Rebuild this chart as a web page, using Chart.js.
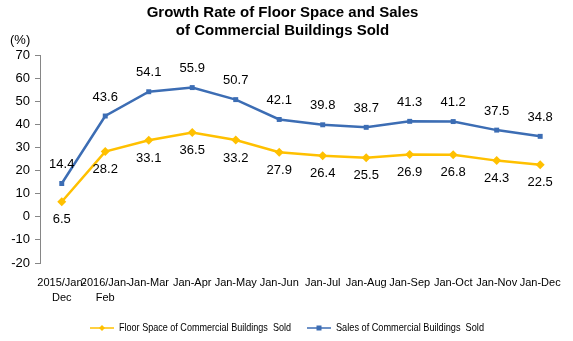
<!DOCTYPE html>
<html>
<head>
<meta charset="utf-8">
<script src="https://cdn.jsdelivr.net/npm/chart.js@4/dist/chart.umd.min.js"></script>
<style>
  html, body { margin: 0; padding: 0; background: #fff; }
  #wrap { width: 573px; height: 341px; position: relative; }
</style>
</head>
<body>
<div id="wrap"><canvas id="chart"></canvas></div>
<script>
// data
const categories = [['2015/Jan-', 'Dec'], ['2016/Jan-', 'Feb'], 'Jan-Mar', 'Jan-Apr', 'Jan-May', 'Jan-Jun',
  'Jan-Jul', 'Jan-Aug', 'Jan-Sep', 'Jan-Oct', 'Jan-Nov', 'Jan-Dec'];
const floorSpace = [6.5, 28.2, 33.1, 36.5, 33.2, 27.9, 26.4, 25.5, 26.9, 26.8, 24.3, 22.5];
const sales = [14.4, 43.6, 54.1, 55.9, 50.7, 42.1, 39.8, 38.7, 41.3, 41.2, 37.5, 34.8];
const yTicks = { min: -20, max: 70, step: 10 };

const YELLOW = '#FFC000';
const BLUE = '#3C6DB4';
const FONT = 'Arial, "Liberation Sans", sans-serif';

// value labels: blue above, yellow below
const labelPlugin = {
  id: 'valueLabels',
  afterDatasetsDraw(chart) {
    const c = chart.ctx;
    c.save();
    c.font = '13px ' + FONT;
    c.fillStyle = '#000';
    c.textAlign = 'center';
    c.textBaseline = 'middle';
    chart.data.datasets.forEach((ds, i) => {
      const meta = chart.getDatasetMeta(i);
      meta.data.forEach((pt, j) => {
        const dy = i === 1 ? -19 : 18;
        c.fillText(ds.data[j].toFixed(1), pt.x, pt.y + dy);
      });
    });
    // unit label
    c.textAlign = 'left';
    c.fillText('(%)', 10, 40);
    c.restore();
  }
};

// legend with line + marker
const legendPlugin = {
  id: 'lineLegend',
  afterDraw(chart) {
    const c = chart.ctx;
    const y = 328;
    const items = [
      { text: 'Floor Space of Commercial Buildings  Sold', color: YELLOW, shape: 'diamond', x: 90, w: 172 },
      { text: 'Sales of Commercial Buildings  Sold', color: BLUE, shape: 'rect', x: 307, w: 148 }
    ];
    c.save();
    c.font = '11px ' + FONT;
    c.textBaseline = 'middle';
    items.forEach(it => {
      c.strokeStyle = it.color;
      c.fillStyle = it.color;
      c.lineWidth = 1.5;
      c.beginPath();
      c.moveTo(it.x, y);
      c.lineTo(it.x + 24, y);
      c.stroke();
      const mx = it.x + 12;
      c.beginPath();
      if (it.shape === 'diamond') {
        c.moveTo(mx, y - 3); c.lineTo(mx + 3, y); c.lineTo(mx, y + 3); c.lineTo(mx - 3, y);
        c.closePath(); c.fill();
      } else {
        c.fillRect(mx - 2.5, y - 2.5, 5, 5);
      }
      c.fillStyle = '#000';
      c.fillText(it.text, it.x + 29, y, it.w);
    });
    c.restore();
  }
};

const ctx = document.getElementById('chart').getContext('2d');
const chart = new Chart(ctx, {
  type: 'line',
  data: {
    labels: categories,
    datasets: [{
      label: 'Floor Space of Commercial Buildings  Sold',
      data: floorSpace,
      borderColor: YELLOW,
      backgroundColor: YELLOW,
      borderWidth: 2.5,
      pointStyle: 'rectRot',
      pointRadius: 4.5,
      pointBorderWidth: 0,
      tension: 0
    }, {
      label: 'Sales of Commercial Buildings  Sold',
      data: sales,
      borderColor: BLUE,
      backgroundColor: BLUE,
      borderWidth: 2.5,
      pointStyle: 'rect',
      pointRadius: 3.5,
      pointBorderWidth: 0,
      tension: 0
    }]
  },
  options: {
    responsive: true,
    maintainAspectRatio: false,
    animation: false,
    layout: { padding: { top: 4, right: 8, bottom: 40, left: 0 } },
    plugins: {
      legend: { display: false },
      tooltip: { enabled: false },
      title: {
        display: true,
        text: ['Growth Rate of Floor Space and Sales', 'of Commercial Buildings Sold'],
        color: '#000',
        font: { family: FONT, size: 15, weight: 'bold', lineHeight: 1.2 },
        padding: { top: 0, bottom: 15 }
      }
    },
    scales: {
      x: {
        offset: true,
        afterFit(scale) { scale.height = 38; },
        grid: { display: false, drawTicks: false },
        border: { display: false },
        ticks: {
          color: '#000',
          font: { family: FONT, size: 11, lineHeight: 1.4 },
          maxRotation: 0,
          autoSkip: false,
          padding: 12
        }
      },
      y: {
        min: yTicks.min,
        max: yTicks.max,
        afterFit(scale) { scale.width = 40; },
        grid: { drawOnChartArea: false, drawTicks: true, tickLength: 5, color: '#868686' },
        border: { display: true, color: '#868686' },
        ticks: {
          stepSize: yTicks.step,
          color: '#000',
          font: { family: FONT, size: 13 },
          padding: 5
        }
      }
    }
  },
  plugins: [labelPlugin, legendPlugin]
});
</script>
</body>
</html>
